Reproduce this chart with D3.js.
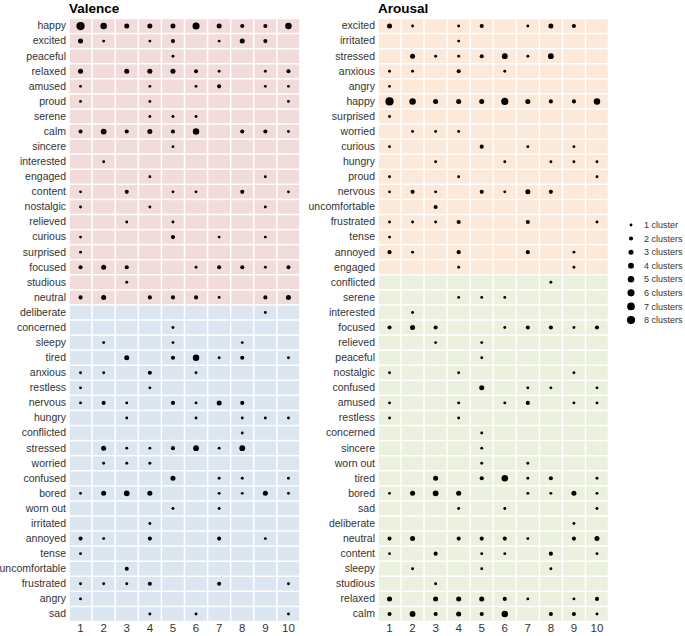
<!DOCTYPE html>
<html>
<head>
<meta charset="utf-8">
<script src="https://cdn.jsdelivr.net/npm/d3@7"></script>
<style>
  body { margin: 0; background: #fff; }
  text { font-family: "Liberation Sans", Arial, sans-serif; }
</style>
</head>
<body>
<svg class="chart"></svg>
<script>
// cluster columns
var columns = [1, 2, 3, 4, 5, 6, 7, 8, 9, 10];

// number of clusters per emotion label, one value per column
var emotionNames = ["happy", "excited", "peaceful", "relaxed", "amused", "proud", "serene", "calm",
    "sincere", "interested", "engaged", "content", "nostalgic", "relieved", "curious", "surprised",
    "focused", "studious", "neutral", "deliberate", "concerned", "sleepy", "tired", "anxious",
    "restless", "nervous", "hungry", "conflicted", "stressed", "worried", "confused", "bored",
    "worn out", "irritated", "annoyed", "tense", "uncomfortable", "frustrated", "angry", "sad"];
var clusterCounts = [
    [8, 5, 3, 3, 3, 6, 3, 2, 2, 5],  // happy
    [3, 1, 0, 1, 2, 0, 1, 3, 2, 0],  // excited
    [0, 0, 0, 0, 1, 0, 0, 0, 0, 0],  // peaceful
    [3, 0, 3, 3, 3, 2, 1, 0, 1, 2],  // relaxed
    [1, 0, 0, 1, 0, 1, 2, 0, 1, 1],  // amused
    [1, 0, 0, 1, 0, 0, 0, 0, 0, 1],  // proud
    [0, 0, 0, 1, 1, 1, 0, 0, 0, 0],  // serene
    [2, 4, 2, 3, 2, 5, 0, 2, 2, 1],  // calm
    [0, 0, 0, 0, 1, 0, 0, 0, 0, 0],  // sincere
    [0, 1, 0, 0, 0, 0, 0, 0, 0, 0],  // interested
    [0, 0, 0, 1, 0, 0, 0, 0, 1, 0],  // engaged
    [1, 0, 2, 0, 1, 1, 0, 2, 0, 1],  // content
    [1, 0, 0, 1, 0, 0, 0, 0, 1, 0],  // nostalgic
    [0, 0, 1, 0, 1, 0, 0, 0, 0, 0],  // relieved
    [1, 0, 0, 0, 2, 0, 1, 0, 1, 0],  // curious
    [1, 0, 0, 0, 0, 0, 0, 0, 0, 0],  // surprised
    [2, 3, 2, 0, 0, 1, 2, 2, 1, 2],  // focused
    [0, 0, 1, 0, 0, 0, 0, 0, 0, 0],  // studious
    [2, 3, 0, 2, 2, 2, 1, 0, 2, 3],  // neutral
    [0, 0, 0, 0, 0, 0, 0, 0, 1, 0],  // deliberate
    [0, 0, 0, 0, 1, 0, 0, 0, 0, 0],  // concerned
    [0, 1, 0, 0, 1, 0, 0, 1, 0, 0],  // sleepy
    [0, 0, 3, 0, 2, 5, 1, 2, 0, 1],  // tired
    [1, 1, 0, 2, 0, 1, 0, 0, 0, 0],  // anxious
    [1, 0, 0, 1, 0, 0, 0, 0, 0, 0],  // restless
    [1, 2, 1, 0, 2, 1, 3, 2, 0, 0],  // nervous
    [0, 0, 1, 0, 0, 1, 0, 1, 1, 1],  // hungry
    [0, 0, 0, 0, 0, 0, 0, 1, 0, 0],  // conflicted
    [0, 3, 1, 1, 2, 4, 1, 4, 0, 0],  // stressed
    [0, 1, 1, 1, 0, 0, 0, 0, 0, 0],  // worried
    [0, 0, 0, 0, 3, 0, 1, 1, 0, 1],  // confused
    [1, 3, 4, 3, 0, 0, 1, 1, 3, 1],  // bored
    [0, 0, 0, 0, 1, 0, 1, 0, 0, 0],  // worn out
    [0, 0, 0, 1, 0, 0, 0, 0, 0, 0],  // irritated
    [2, 1, 0, 2, 0, 0, 2, 0, 1, 0],  // annoyed
    [1, 0, 0, 0, 0, 0, 0, 0, 0, 0],  // tense
    [0, 0, 2, 0, 0, 0, 0, 0, 0, 0],  // uncomfortable
    [1, 1, 1, 2, 0, 0, 2, 0, 0, 1],  // frustrated
    [1, 0, 0, 0, 0, 0, 0, 0, 0, 0],  // angry
    [0, 0, 0, 1, 0, 1, 0, 0, 0, 1]   // sad
];

// row order of each panel, and how many rows fall in the top (first colour) block
var valenceOrder = emotionNames.slice();
var valenceTop = 19;
var arousalOrder = ["excited", "irritated", "stressed", "anxious", "angry", "happy", "surprised",
    "worried", "curious", "hungry", "proud", "nervous", "uncomfortable", "frustrated", "tense",
    "annoyed", "engaged", "conflicted", "serene", "interested", "focused", "relieved", "peaceful",
    "nostalgic", "confused", "amused", "restless", "concerned", "sincere", "worn out", "tired",
    "bored", "sad", "deliberate", "neutral", "content", "sleepy", "studious", "relaxed", "calm"];
var arousalTop = 17;

var legendCounts = [1, 2, 3, 4, 5, 6, 7, 8];

function show() {
    'use strict';

    var width = 685, height = 636;
    var svg = d3.select(".chart").attr("width", width).attr("height", height);

    var top = 18.5, bottom = 621.5;
    var r = d3.scaleSqrt().domain([0, 8]).range([0, 4.1]);

    function countsOf(name) {
        return clusterCounts[emotionNames.indexOf(name)];
    }

    function panel(title, order, nTop, left, right, colTop, colBottom) {
        var g = svg.append("g");

        var x = d3.scaleBand().domain(columns).range([left, right]);
        var y = d3.scaleBand().domain(order).range([top, bottom]);

        // cell backgrounds
        order.forEach(function (name, i) {
            g.selectAll(null).data(columns).enter().append("rect")
                .attr("x", d => x(d) + 0.75)
                .attr("y", y(name) + 0.75)
                .attr("width", x.bandwidth() - 1.5)
                .attr("height", y.bandwidth() - 1.5)
                .attr("fill", i < nTop ? colTop : colBottom);
        });

        // dots
        order.forEach(function (name) {
            var vals = countsOf(name);
            g.selectAll(null).data(columns.filter((c, j) => vals[j] > 0)).enter().append("circle")
                .attr("cx", d => x(d) + x.bandwidth() / 2)
                .attr("cy", y(name) + y.bandwidth() / 2)
                .attr("r", d => r(vals[d - 1]))
                .attr("fill", "#000");
        });

        // row labels
        var yAxis = d3.axisLeft(y).tickSize(0).tickPadding(3);
        var ya = g.append("g").attr("transform", "translate(" + left + ",0)").call(yAxis);
        ya.select(".domain").remove();
        ya.selectAll("text").attr("font-size", "10.5px").attr("fill", "#333")
            .style("font-family", "'Liberation Sans', Arial, sans-serif");

        // column labels
        var xAxis = d3.axisBottom(x).tickSize(0).tickPadding(2);
        var xa = g.append("g").attr("transform", "translate(0," + bottom + ")").call(xAxis);
        xa.select(".domain").remove();
        xa.selectAll("text").attr("font-size", "11.5px").attr("fill", "#333")
            .style("font-family", "'Liberation Sans', Arial, sans-serif");

        g.append("text")
            .attr("x", left).attr("y", 13)
            .attr("font-size", "13.5px").attr("font-weight", "bold")
            .text(title);
    }

    panel("Valence", valenceOrder, valenceTop, 69, 300, "#f2dcdb", "#dce6f1");
    panel("Arousal", arousalOrder, arousalTop, 378, 608.5, "#fde9d9", "#ebf1de");

    // legend
    var ly = d3.scaleLinear().domain([1, 8]).range([225, 320]);
    var lg = svg.append("g").selectAll("g").data(legendCounts).enter().append("g")
        .attr("transform", d => "translate(631," + ly(d) + ")");
    lg.append("circle").attr("r", d => r(d)).attr("fill", "#000");
    lg.append("text").attr("x", 13).attr("dy", "0.35em")
        .attr("font-size", "9px").attr("fill", "#333")
        .text(d => d + (d === 1 ? " cluster" : " clusters"));
}
show();
</script>
</body>
</html>
